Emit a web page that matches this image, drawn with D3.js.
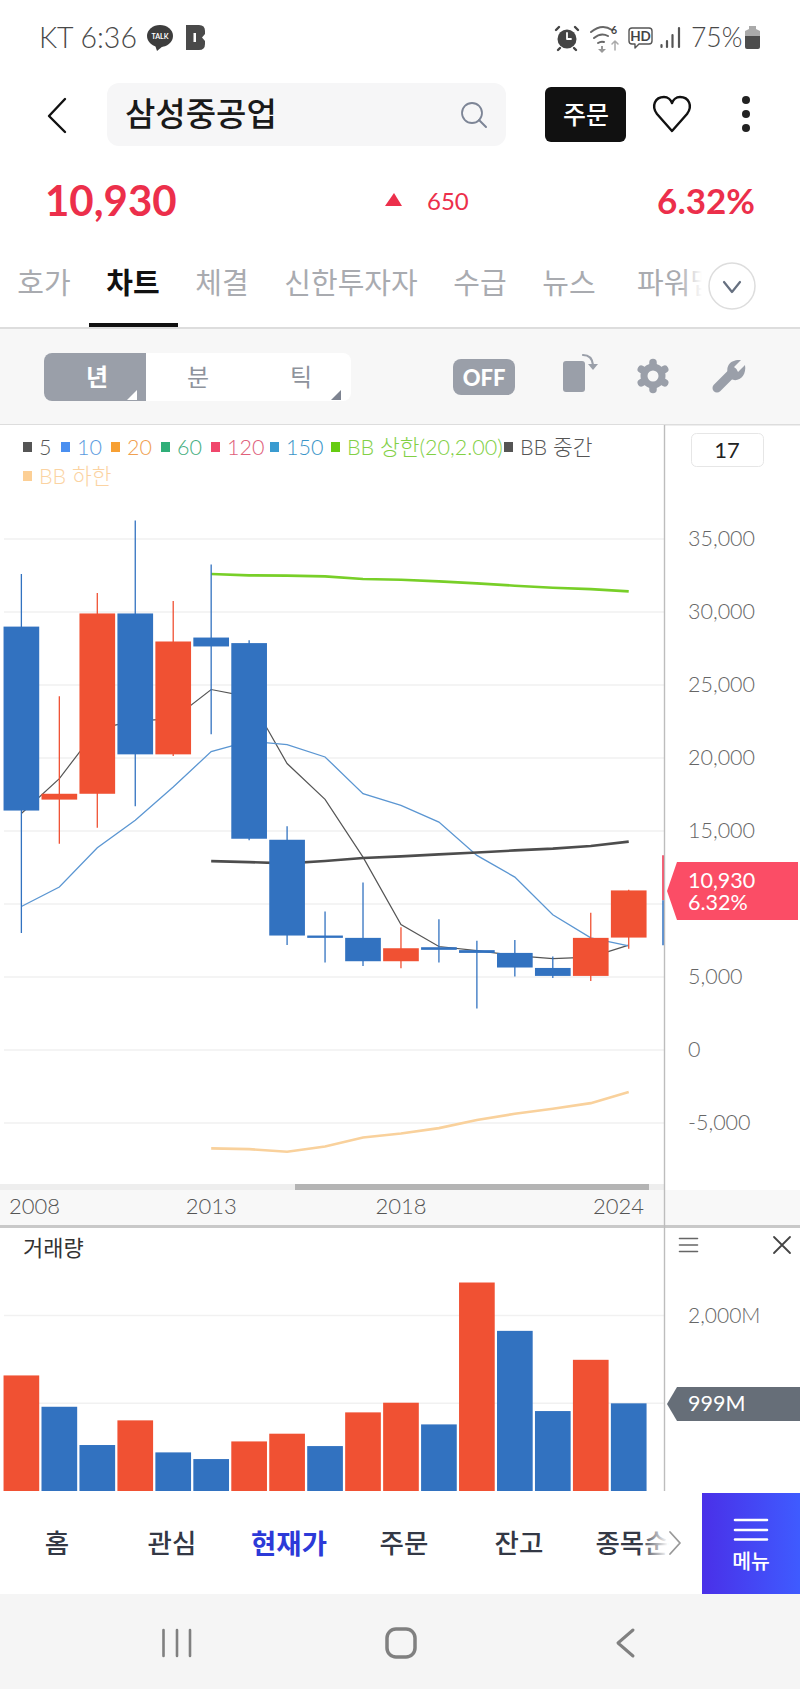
<!DOCTYPE html>
<html>
<head>
<meta charset="utf-8">
<script src="https://cdnjs.cloudflare.com/ajax/libs/d3/7.8.5/d3.min.js"></script>
<style>
  html, body { margin: 0; padding: 0; background: #fff; }
  svg { display: block; }
  text { font-family: Lato, "Noto Sans CJK KR", sans-serif; }
  .axis path, .axis line { display: none; }
</style>
</head>
<body>
<div id="chart"></div>
<script>
// chart data
var years = ["2008","2009","2010","2011","2012","2013","2014","2015","2016","2017","2018","2019","2020","2021","2022","2023","2024"];
var opens  = [29000,17150,17550,29900,20250,28250,27870,14400,7840,7680,6080,7040,6840,6650,5620,5075,7700];
var closes = [16400,17550,29900,20250,27980,27640,14470,7840,7680,6080,6970,6860,6650,5650,5075,7680,10930];
var highs  = [32600,24230,31300,36260,30750,33260,28070,15320,9490,11480,8410,8960,7480,7540,6400,9400,10970];
var lows   = [8020,14130,15230,16690,20140,21630,14360,7200,5990,5760,5600,5990,2840,5030,4940,4730,6930];
var volumes = [1317,960,524,805,440,364,565,653,512,896,1006,759,2376,1825,911,1495,999];

var ma5  = [16200,18590,22000,22540,22680,24690,24190,19620,17170,13210,8600,7090,6810,6470,6260,6360,7180];
var ma10 = [9830,11160,13850,15730,18010,20440,21150,20920,20070,17560,16760,15610,13330,11840,9260,7680,7130];
// bollinger bands only start at 2013
var bbYears = years.slice(5);
var bbUpper = [32600,32510,32490,32440,32260,32210,32100,31960,31800,31660,31570,31410];
var bbMid   = [12940,12870,12780,12940,13150,13260,13400,13530,13670,13790,13970,14270];
var bbLower = [-6740,-6790,-6970,-6610,-5990,-5720,-5350,-4800,-4370,-4020,-3640,-2880];

var priceTicks = [-5000,0,5000,10000,15000,20000,25000,30000,35000];
var priceLabelTicks = [-5000,0,5000,15000,20000,25000,30000,35000];
var volumeTicks = [1000,2000];
var yearTicks = ["2008","2013","2018","2024"];

// label, square colour, text colour, left edge
var legendRow1 = [["5","#555555","#555555",23],["10","#4a8ff0","#5b9be0",61],["20","#f7a033","#f0a050",111],["60","#2fae78","#45ae80",161],["120","#f0476c","#e0607a",211],["150","#3a9bd0","#3a95c8",270],["BB 상한(20,2.00)","#66cc11","#82d045",331],["BB 중간","#555555","#555555",504]];
var legendRow2 = [["BB 하한","#fccf95","#fbd3a2",23]];

var tabs = [["호가",44],["차트",133],["체결",222],["신한투자자",351],["수급",480],["뉴스",569],["파워맵",677]];
var navItems = [["홈",57],["관심",172],["현재가",289],["주문",404],["잔고",519],["종목순",632]];

var UP = "#f05133", DOWN = "#3272c0", RED = "#ec2f4b", ICON = "#9a9fa9";

var svg = d3.select("#chart").append("svg")
    .attr("width", 800)
    .attr("height", 1689)
    .attr("viewBox", "0 0 800 1689");

function box(x, y, w, h, fill, r) {
  return svg.append("rect").attr("x", x).attr("y", y).attr("width", w).attr("height", h)
    .attr("fill", fill).attr("rx", r || 0);
}
function txt(x, y, s, size, color, anchor, weight) {
  return svg.append("text").attr("x", x).attr("y", y).text(s)
    .attr("font-size", size).attr("fill", color)
    .attr("text-anchor", anchor || "start")
    .attr("font-weight", weight || 400)
    .attr("dominant-baseline", "central");
}
function stroke(d, color, w) {
  return svg.append("path").attr("d", d).attr("fill", "none")
    .attr("stroke", color).attr("stroke-width", w)
    .attr("stroke-linecap", "round").attr("stroke-linejoin", "round");
}
function solid(d, color) {
  return svg.append("path").attr("d", d).attr("fill", color);
}

box(0, 0, 800, 1689, "#fff");

// status bar
txt(39, 37, "KT 6:36", 28.5, "#484848", "start", 300);
svg.append("ellipse").attr("cx", 160).attr("cy", 36).attr("rx", 13).attr("ry", 11).attr("fill", "#3d3d3d");
solid("M155,45 L157,51 L163,46 Z", "#3d3d3d");
txt(160, 36, "TALK", 7, "#fff", "middle", 700);
solid("M186,25 L199,25 Q205,25 205,31 L205,34 L202,37.5 L205,41 L205,44 Q205,50 199,50 L186,50 Z", "#4a4a4a");
box(193.5, 33, 2.5, 9, "#fff");
// alarm, wifi, hd, signal, battery
svg.append("circle").attr("cx", 567).attr("cy", 39).attr("r", 9.5).attr("fill", "#444");
stroke("M559,27 L556,30 M575,27 L578,30 M560,48 L558,50 M574,48 L576,50", "#444", 2.4);
stroke("M567,33 L567,39 L571,39", "#fff", 1.8);
stroke("M591,32 Q602,23 612,30 M594,38 Q601,32 608,36 M598,43 Q601,41 604,42", "#666", 2);
solid("M601,46 L603,46 L603,49 L606,49 L602,53 L598,49 L601,49 Z", "#999");
stroke("M615,50 L615,41 M612,44 L615,41 L618,44", "#aaa", 1.5);
txt(611, 30, "6", 10.5, "#444", "start", 700);
stroke("M632,28 L649,28 Q652,28 652,31 L652,41 Q652,44 649,44 L639,44 L635,48 L635,44 L632,44 Q629,44 629,41 L629,31 Q629,28 632,28 Z", "#555", 1.4);
txt(640.5, 36, "HD", 13.5, "#444", "middle", 700);
stroke("M661.5,47 L661.5,45 M667,47 L667,41 M672.5,47 L672.5,35 M679,47 L679,28", "#555", 2.2);
txt(691, 37, "75%", 26.5, "#484848", "start", 300);
box(745, 34, 15, 15, "#4d4d4d", 2);
solid("M749,26 L756,26 L756,29 L760,31 L760,36 L745,36 L745,31 L749,29 Z", "#aaa");

// header
stroke("M65,99 L49,116 L65,132", "#111", 2.4);
box(107, 83, 399, 63, "#f6f6f7", 12);
txt(125, 113, "삼성중공업", 33, "#1a1a1a", "start", 500);
svg.append("circle").attr("cx", 472).attr("cy", 113).attr("r", 10).attr("fill", "none").attr("stroke", "#7d8596").attr("stroke-width", 1.8);
stroke("M479,120 L486,127", "#7d8596", 2);
box(545, 87, 81, 55, "#111", 6);
txt(586, 114, "주문", 25, "#fff", "middle", 500);
stroke("M672,131 L657,114 C651,106 655,97 664,97 C668,97 671,100 672,103 C673,100 676,97 680,97 C689,97 693,106 687,114 Z", "#111", 2.4);
[100, 114, 128].forEach(function(cy) {
  svg.append("circle").attr("cx", 746).attr("cy", cy).attr("r", 4).attr("fill", "#222");
});

// price row
txt(45, 200, "10,930", 42, RED, "start", 700);
solid("M394,193 L402,206 L385,206 Z", RED);
txt(427, 200, "650", 24, RED);
txt(755, 200, "6.32%", 35, RED, "end", 700);

// tabs
tabs.forEach(function(t, i) {
  txt(t[1], 282, t[0], 29, i == 1 ? "#111" : "#a9abb0", "middle", i == 1 ? 700 : 400);
});
var defs = svg.append("defs");
var fade = defs.append("linearGradient").attr("id", "fade");
fade.append("stop").attr("offset", "0").attr("stop-color", "#fff").attr("stop-opacity", 0);
fade.append("stop").attr("offset", "1").attr("stop-color", "#fff").attr("stop-opacity", 1);
box(680, 262, 22, 44, "url(#fade)");
box(702, 262, 98, 44, "#fff");
svg.append("circle").attr("cx", 732).attr("cy", 286).attr("r", 23).attr("fill", "#fff").attr("stroke", "#ddd").attr("stroke-width", 1.5);
stroke("M724,282 L732,292 L740,282", "#667080", 2.2);
box(0, 327, 800, 2, "#dddddd");
box(89, 323, 89, 4, "#111");

// toolbar
box(0, 329, 800, 96, "#f7f7f7");
box(0, 424, 800, 1.5, "#dddddd");
box(44, 353, 307, 48, "#fff", 8);
box(44, 353, 102, 48, ICON, 8);
box(130, 353, 16, 48, ICON);
txt(97, 376, "년", 24, "#fff", "middle", 700);
txt(198, 376, "분", 24, "#8e939c", "middle");
txt(301, 376, "틱", 24, "#8e939c", "middle");
solid("M137,390 L137,400 L127,400 Z", "#fff");
solid("M341,390 L341,400 L331,400 Z", "#7d8390");
box(453, 359, 62, 36, ICON, 8);
txt(484, 377, "OFF", 22, "#fff", "middle", 900);
box(563, 361, 22, 31, ICON, 3);
stroke("M583,355 Q592,355 593,365", ICON, 2.2);
solid("M588,364 L598,364 L593,370 Z", ICON);
// gear
d3.range(6).forEach(function(i) {
  var a = i * Math.PI / 3 + Math.PI / 2;
  stroke("M" + (653 + 10 * Math.cos(a)) + "," + (376 + 10 * Math.sin(a)) + " L" + (653 + 13.5 * Math.cos(a)) + "," + (376 + 13.5 * Math.sin(a)), ICON, 7.5);
});
svg.append("circle").attr("cx", 653).attr("cy", 376).attr("r", 9).attr("fill", "none").attr("stroke", ICON).attr("stroke-width", 7);
// wrench
stroke("M717,388 L733,372", ICON, 9);
solid("M729,376 C724,366 731,359 741,360 L734,367 L738,372 L745,365 C747,376 738,383 731,379 Z", ICON);

// chart panel
box(0, 425, 665, 765, "#fff");

var x = d3.scaleBand().domain(years).range([2.4, 647.7]).paddingInner(0.06).paddingOuter(0.03);
var y = d3.scaleLinear().domain([-5000, 35000]).range([1123, 539]);
var yVol = d3.scaleLinear().domain([0, 2000]).range([1491, 1315.5]);
function cx(d) { return x(d) + x.bandwidth() / 2; }

// grid lines
svg.append("g").selectAll("line").data(priceTicks).enter().append("line")
    .attr("x1", 4).attr("x2", 664)
    .attr("y1", function(d) { return y(d); })
    .attr("y2", function(d) { return y(d); })
    .attr("stroke", "#f1f1f1").attr("stroke-width", 1.5);

// legend
function legend(row, ty) {
  row.forEach(function(l) {
    box(l[3], ty - 5, 9, 10, l[1]);
    txt(l[3] + 16, ty, l[0], 21.5, l[2], "start", 300);
  });
}
legend(legendRow1, 447);
legend(legendRow2, 476);

// moving averages and bollinger sit under the candles
var line = d3.line().x(function(d) { return cx(d[0]); }).y(function(d) { return y(d[1]); });
function drawLine(xs, vals, color, w) {
  svg.append("path").datum(d3.zip(xs, vals)).attr("d", line)
    .attr("fill", "none").attr("stroke", color).attr("stroke-width", w);
}
drawLine(years, ma5, "#555555", 1.2);
drawLine(years, ma10, "#5b96d2", 1.3);
drawLine(bbYears, bbUpper, "#78cf28", 2.6);
drawLine(bbYears, bbMid, "#4d4d4d", 2.6);
drawLine(bbYears, bbLower, "#f9d19c", 2.6);

// candles
var candles = svg.append("g").selectAll("g").data(years).enter().append("g");
function candleColor(d, i) { return closes[i] >= opens[i] ? UP : DOWN; }
candles.append("line")
    .attr("x1", cx).attr("x2", cx)
    .attr("y1", function(d, i) { return y(highs[i]); })
    .attr("y2", function(d, i) { return y(lows[i]); })
    .attr("stroke", candleColor).attr("stroke-width", 1.3);
candles.append("rect")
    .attr("x", function(d) { return x(d); })
    .attr("width", x.bandwidth())
    .attr("y", function(d, i) { return y(Math.max(opens[i], closes[i])); })
    .attr("height", function(d, i) { return Math.abs(y(opens[i]) - y(closes[i])); })
    .attr("fill", candleColor);

// price axis labels
svg.append("g").attr("class", "axis")
    .attr("transform", "translate(664,0)")
    .call(d3.axisRight(y).tickValues(priceLabelTicks).tickSize(0).tickPadding(24)
      .tickFormat(function(d) { return d3.format(",")(d).replace("−", "-"); }))
    .selectAll("text").attr("font-size", 21.5).attr("font-weight", 300).attr("fill", "#666").attr("font-family", "Lato");

// interval box
svg.append("rect").attr("x", 691.5).attr("y", 433.5).attr("width", 72).attr("height", 33).attr("rx", 5)
    .attr("fill", "#fff").attr("stroke", "#e6e6e6");
txt(727, 449, "17", 22, "#222", "middle");

// scrollbar and date strip
box(0, 1190, 800, 36, "#f8f8f8");
box(0, 1184, 664, 6, "#eeeeee");
box(295, 1184, 354, 6, "#b4b4b4");
var xAxis = svg.append("g").attr("class", "axis")
    .attr("transform", "translate(0,1190)")
    .call(d3.axisBottom(x).tickValues(yearTicks).tickSize(0).tickPadding(5));
xAxis.selectAll("text").attr("font-size", 22).attr("font-weight", 300).attr("fill", "#555").attr("font-family", "Lato").attr("dy", "0.85em")
    .attr("text-anchor", function(d) { return d == "2008" ? "start" : d == "2024" ? "end" : "middle"; })
    .attr("x", function(d) { return d == "2008" ? 9 - cx(d) : d == "2024" ? 644 - cx(d) : 0; });
box(0, 1225, 800, 3, "#c9c9c9");

// volume panel
box(0, 1228, 800, 263, "#fff");
svg.append("g").selectAll("line").data(volumeTicks).enter().append("line")
    .attr("x1", 4).attr("x2", 664)
    .attr("y1", function(d) { return yVol(d); })
    .attr("y2", function(d) { return yVol(d); })
    .attr("stroke", "#f1f1f1").attr("stroke-width", 1.5);
svg.append("g").selectAll("rect").data(years).enter().append("rect")
    .attr("x", function(d) { return x(d); })
    .attr("width", x.bandwidth())
    .attr("y", function(d, i) { return yVol(volumes[i]); })
    .attr("height", function(d, i) { return yVol(0) - yVol(volumes[i]); })
    .attr("fill", function(d, i) { return i == 0 || volumes[i] > volumes[i - 1] ? UP : DOWN; });
txt(23, 1247, "거래량", 22, "#333");
stroke("M679.5,1238.5 L697.5,1238.5 M679.5,1245 L697.5,1245 M679.5,1251.5 L697.5,1251.5", "#666", 1.6);
stroke("M774,1237 L790,1253 M790,1237 L774,1253", "#444", 1.8);
svg.append("g").attr("class", "axis")
    .attr("transform", "translate(664,0)")
    .call(d3.axisRight(yVol).tickValues([2000]).tickSize(0).tickPadding(24).tickFormat(function(d) { return d3.format(",")(d) + "M"; }))
    .selectAll("text").attr("font-size", 21).attr("font-weight", 300).attr("fill", "#666").attr("font-family", "Lato");

// y axis rule, with the sliver of the next candle on it
svg.append("line").attr("x1", 664.5).attr("x2", 664.5).attr("y1", 425).attr("y2", 1491).attr("stroke", "#bdbdbd").attr("stroke-width", 1.4);
svg.append("line").attr("x1", 663).attr("x2", 663).attr("y1", y(13340)).attr("y2", y(10260)).attr("stroke", RED).attr("stroke-width", 1.5);
svg.append("line").attr("x1", 663).attr("x2", 663).attr("y1", y(10260)).attr("y2", y(7180)).attr("stroke", DOWN).attr("stroke-width", 1.5);

// current price tag
solid("M677,862 L798,862 L798,920 L677,920 L667,891 Z", "#fb4d66");
txt(688, 880, "10,930", 21.5, "#fff", "start", 400);
txt(688, 902, "6.32%", 21.5, "#fff", "start", 400);
// current volume tag
solid("M677,1387 L800,1387 L800,1421 L677,1421 L667,1404 Z", "#666e78");
txt(688, 1403, "999M", 21.5, "#fff", "start", 400);

// bottom nav
box(0, 1491, 800, 103, "#fff");
navItems.forEach(function(n, i) {
  txt(n[1], 1543, n[0], i == 2 ? 27.5 : 26.5, i == 2 ? "#2c3ad8" : "#333845", "middle", i == 2 ? 700 : 500);
});
box(640, 1520, 28, 46, "url(#fade)");
stroke("M670,1532 L680,1543 L670,1554", "#999", 1.8);
box(682, 1520, 20, 46, "#fff");
var menuGrad = defs.append("linearGradient").attr("id", "menuGrad");
menuGrad.append("stop").attr("offset", "0").attr("stop-color", "#4a30e8");
menuGrad.append("stop").attr("offset", "1").attr("stop-color", "#3f5bff");
box(702, 1493, 98, 103, "url(#menuGrad)");
stroke("M735,1520 L767,1520 M735,1530 L767,1530 M735,1539.5 L767,1539.5", "#fff", 2.6);
txt(751, 1561, "메뉴", 20.5, "#fff", "middle", 500);

// android nav
box(0, 1594, 800, 95, "#f5f5f5");
stroke("M163.5,1630 L163.5,1656 M177,1630 L177,1656 M190,1630 L190,1656", "#808080", 2.6);
svg.append("rect").attr("x", 387).attr("y", 1629).attr("width", 28).attr("height", 28).attr("rx", 9)
    .attr("fill", "none").attr("stroke", "#808080").attr("stroke-width", 3.5);
stroke("M633,1630 L618,1643 L633,1656", "#808080", 3);
</script>
</body>
</html>
